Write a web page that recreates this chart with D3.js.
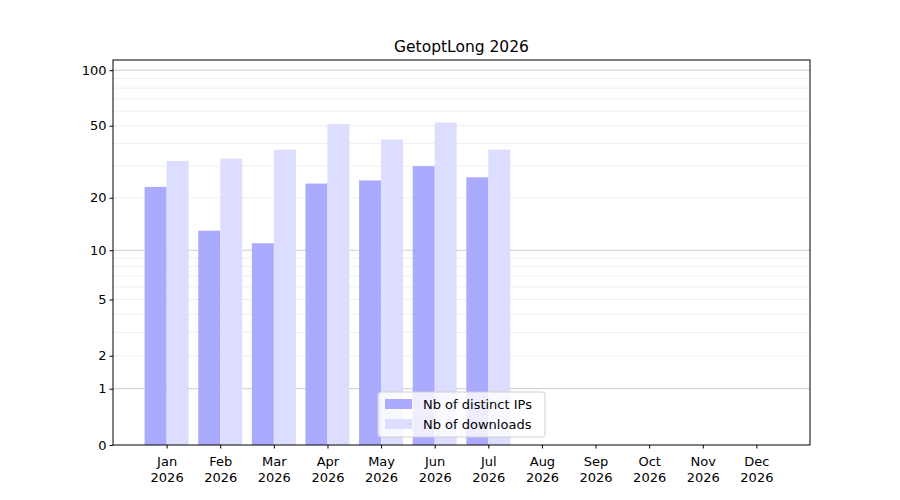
<!DOCTYPE html>
<html><head><meta charset="utf-8">
<script src="https://cdn.jsdelivr.net/npm/d3@7"></script>
<style>body{margin:0;background:#fff}text{font-family:"DejaVu Sans",sans-serif}</style>
</head><body><svg id="c" width="900" height="500"></svg>
<script>
const months=["Jan","Feb","Mar","Apr","May","Jun","Jul","Aug","Sep","Oct","Nov","Dec"];
const year="2026";
const ips=[23,13,11,24,25,30,26];
const downloads=[32,33,37,51,42,52,37];
const yTicks=[0,1,2,5,10,20,50,100];
const title="GetoptLong 2026";

const svg=d3.select("#c");
const L=113,R=810,T=60,B=445;
const x=d3.scalePoint().domain(months).range([L,R]).padding(1);
const y=d3.scaleSymlog().constant(1).domain([0,113.5]).range([B,T]);
const bw=22;
// grid
const minor=[];for(let d=1;d<=100;d*=10)for(let k=2;k<=9;k++)if(d*k<113)minor.push(d*k);
svg.append("g").selectAll("line").data(minor).join("line")
 .attr("x1",L).attr("x2",R).attr("y1",d=>y(d)).attr("y2",d=>y(d)).attr("stroke","#ebebeb").attr("stroke-width",0.8);
svg.append("g").selectAll("line").data([1,10,100]).join("line")
 .attr("x1",L).attr("x2",R).attr("y1",d=>y(d)).attr("y2",d=>y(d)).attr("stroke","#cccccc").attr("stroke-width",1);
svg.append("g").selectAll("rect").data(ips).join("rect")
 .attr("x",(d,i)=>x(months[i])-bw).attr("width",bw).attr("y",d=>y(d)).attr("height",d=>B-y(d)).attr("fill","#aaaaff");
svg.append("g").selectAll("rect").data(downloads).join("rect")
 .attr("x",(d,i)=>x(months[i])).attr("width",bw).attr("y",d=>y(d)).attr("height",d=>B-y(d)).attr("fill","#ddddff");
// axes
const ya=svg.append("g").attr("transform",`translate(${L},0)`).call(d3.axisLeft(y).tickValues(yTicks).tickFormat(d3.format("d")).tickSize(3.5));
const xa=svg.append("g").attr("transform",`translate(0,${B})`).call(d3.axisBottom(x).tickSize(3.5).tickFormat(""));
[ya,xa].forEach(a=>{a.select(".domain").remove();a.selectAll("text").attr("font-size",13).attr("fill","#000");a.selectAll("line").attr("stroke","#000");});
xa.selectAll(".tick").each(function(d){const t=d3.select(this).append("text").attr("fill","#000").attr("font-size",13).attr("text-anchor","middle");
 t.append("tspan").attr("x",0).attr("y",21).text(d);t.append("tspan").attr("x",0).attr("y",37).text(year);});
svg.append("rect").attr("x",L).attr("y",T).attr("width",R-L).attr("height",B-T).attr("fill","none").attr("stroke","#000");
svg.append("text").attr("x",(L+R)/2).attr("y",52).attr("text-anchor","middle").attr("font-size",15.5).text(title);
// legend
const lg=svg.append("g").attr("transform","translate(378,392)");
lg.append("rect").attr("width",167).attr("height",45).attr("rx",3).attr("fill","#fff").attr("fill-opacity",0.8).attr("stroke","#d0d0d0");
[["Nb of distinct IPs","#aaaaff"],["Nb of downloads","#ddddff"]].forEach((e,i)=>{
 lg.append("rect").attr("x",7).attr("y",7+i*20).attr("width",27).attr("height",10).attr("fill",e[1]);
 lg.append("text").attr("x",45).attr("y",17+i*20).attr("font-size",13).text(e[0]);});
</script></body></html>
